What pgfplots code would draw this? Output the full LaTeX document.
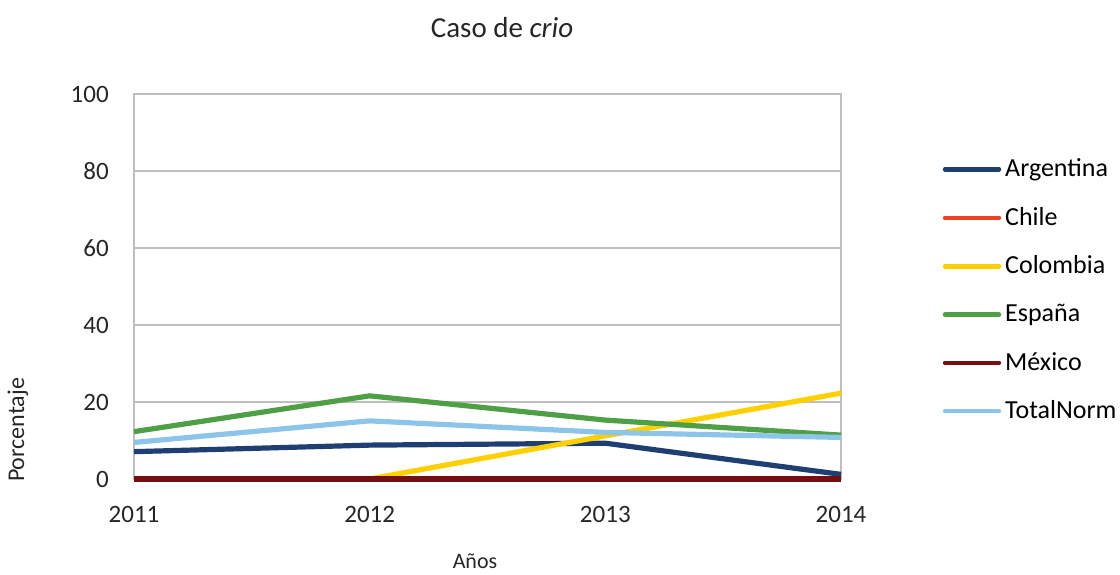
\documentclass[border=0pt]{standalone}
\usepackage{fontspec}
\setmainfont{Carlito}
\usepackage{pgfplots}
\pgfplotsset{compat=1.18}

\definecolor{cArg}{HTML}{1F3F73}
\definecolor{cChi}{HTML}{F04020}
\definecolor{cCol}{HTML}{FFD000}
\definecolor{cEsp}{HTML}{4F9F46}
\definecolor{cMex}{HTML}{741011}
\definecolor{cTot}{HTML}{8DC5EA}
\definecolor{gridg}{HTML}{BFBFBF}

\begin{document}
\begin{tikzpicture}
\path[use as bounding box] (0,0) rectangle (560pt,287pt);
\begin{axis}[
    at={(67pt,47.5pt)}, anchor=south west,
    scale only axis, width=353.5pt, height=192.5pt,
    xmin=2011, xmax=2014, ymin=0, ymax=100,
    xtick={2011,2012,2013,2014}, ytick={0,20,40,60,80,100},
    /pgf/number format/set thousands separator={},
    /pgf/number format/assume math mode=true,
    tick style={draw=none},
    ymajorgrids, grid style={gridg, line width=0.9pt},
    axis line style={gridg, line width=0.9pt},
    tick label style={font=\fontsize{12.5}{14}\selectfont, text=black!85},
    yticklabel style={xshift=-8pt},
    xticklabel style={yshift=-9pt},
    clip=false,
    line width=2.6pt,
    legend style={at={(1.144,0.842)}, anchor=north west, draw=none,
        font=\fontsize{13}{15}\selectfont, row sep=9.75pt,
        inner sep=0pt, outer sep=0pt,
        /tikz/every odd column/.append style={column sep=0pt}},
    legend cell align=left,
    legend image code/.code={\draw[#1, line width=2.2pt, line cap=round] (0pt,0pt) -- (27pt,0pt);},
]
\addplot[cArg] coordinates {(2011,7.1)(2012,8.8)(2013,9.3)(2014,1.2)};
\addplot[cChi] coordinates {(2011,0)(2012,0)(2013,0)(2014,0)};
\addplot[cCol] coordinates {(2011,0)(2012,0)(2013,11.2)(2014,22.3)};
\addplot[cEsp] coordinates {(2011,12.3)(2012,21.6)(2013,15.3)(2014,11.4)};
\addplot[cMex] coordinates {(2011,0)(2012,0)(2013,0)(2014,0)};
\addplot[cTot] coordinates {(2011,9.5)(2012,15.1)(2013,12.1)(2014,10.8)};
\legend{Argentina, Chile, Colombia, España, México, TotalNorm}
\end{axis}
\node[font=\fontsize{14.5}{16}\selectfont, text=black!85] at (251pt,273pt) {Caso de \textit{crio}};
\node[font=\fontsize{11}{13}\selectfont, text=black!85] at (237.5pt,6.5pt) {Años};
\node[font=\fontsize{12}{14}\selectfont, text=black!85, rotate=90] at (9pt,72pt) {Porcentaje};
\end{tikzpicture}
\end{document}
